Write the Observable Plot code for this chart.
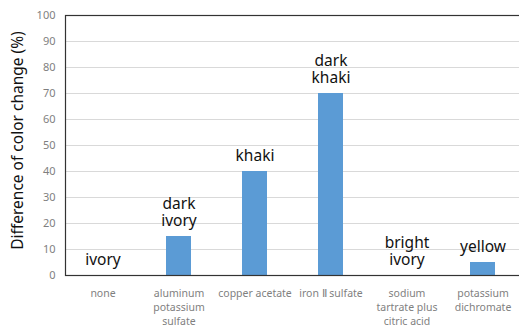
<!DOCTYPE html>
<html>
<head>
<meta charset="utf-8">
<script src="https://cdn.jsdelivr.net/npm/d3@7"></script>
<script src="https://cdn.jsdelivr.net/npm/@observablehq/plot@0.6"></script>
<style>
  html, body { margin: 0; padding: 0; background: #fff; }
  #chart svg { display: block; font-family: "Noto Sans", sans-serif; }
</style>
</head>
<body>
<div id="chart"></div>
<script>
// Mordants tested and the resulting colour difference (%)
const mordants = [
  "none",
  "aluminum\npotassium\nsulfate",
  "copper acetate",
  "iron \u2161 sulfate",
  "sodium\ntartrate plus\ncitric acid",
  "potassium\ndichromate"
];
const colorChange = [0, 15, 40, 70, 0, 5];
const colorNames = ["ivory", "dark\nivory", "khaki", "dark\nkhaki", "bright\nivory", "yellow"];
const yTicks = [0, 10, 20, 30, 40, 50, 60, 70, 80, 90, 100];
const yTitle = "Difference of color change (%)";

const rows = mordants.map((m, i) => ({mordant: m, value: colorChange[i], name: colorNames[i]}));

const chart = Plot.plot({
  width: 519,
  height: 326,
  marginTop: 15,
  marginBottom: 51,
  marginLeft: 65,
  marginRight: -2,
  style: {fontFamily: "'Noto Sans', sans-serif", background: "#fff"},
  x: {domain: mordants, paddingInner: 0.67, paddingOuter: 0.335, axis: null},
  y: {domain: [0, 100], axis: null},
  marks: [
    Plot.gridY(yTicks.filter(t => t > 0 && t < 100), {stroke: "#d9d9d9", strokeOpacity: 1}),
    Plot.barY(rows, {x: "mordant", y: "value", fill: "#5b9bd5"}),
    Plot.frame({stroke: "#333", strokeWidth: 1.2}),
    Plot.axisY({ticks: yTicks, tickSize: 0, tickPadding: 10, fontSize: 11, color: "#7f7f7f", label: null}),
    Plot.axisX({tickSize: 0, tickPadding: 11, fontSize: 10.5, lineHeight: 1.35, color: "#7f7f7f", label: null}),
    Plot.text(rows, {x: "mordant", y: "value", text: "name", lineAnchor: "bottom", dy: -11,
      fontSize: 15.5, lineHeight: 1.08, fill: "#111"}),
    Plot.text([yTitle], {frameAnchor: "left", textAnchor: "middle", rotate: -90, dx: -47, dy: -5,
      fontSize: 15.5, fill: "#111"})
  ]
});

document.getElementById("chart").append(chart);
</script>
</body>
</html>
